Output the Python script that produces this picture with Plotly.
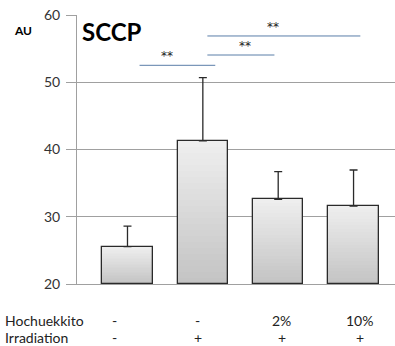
import plotly.graph_objects as go

categories = ["Control", "Irradiation", "Hochuekkito 2%", "Hochuekkito 10%"]
means = [25.55, 41.3, 32.6, 31.6]
sd_plus = [3.05, 9.4, 4.1, 5.35]
hochuekkito_labels = ["-", "-", "2%", "10%"]
irradiation_labels = ["-", "+", "+", "+"]
y_ticks = [20, 30, 40, 50, 60]
y_base = 20

FONT = "Lato"
GRID = "#a0a0a0"

fig = go.Figure()

# vertical gradient fill: stacked overlapping segments, darker at bottom
N = 24
top_c = (238, 238, 238)
bot_c = (196, 196, 196)
for k in range(N):
    t = k / (N - 1)
    c = tuple(round(bot_c[j] + (top_c[j] - bot_c[j]) * t) for j in range(3))
    bases = [y_base + (m - y_base) * k / N for m in means]
    fig.add_trace(go.Bar(
        x=categories, y=[m - b for m, b in zip(means, bases)], base=bases,
        width=0.67, marker=dict(color="rgb(%d,%d,%d)" % c, line=dict(width=0)),
        hoverinfo="skip", showlegend=False))

# outline + error bars
fig.add_trace(go.Bar(
    x=categories, y=[m - y_base for m in means], base=[y_base] * len(means),
    width=0.67,
    marker=dict(color="rgba(0,0,0,0)", line=dict(color="#2a2a2a", width=1.3)),
    error_y=dict(type="data", array=sd_plus, arrayminus=[0] * len(means),
                 symmetric=False, color="#2a2a2a", thickness=1.3, width=4),
    showlegend=False))

# significance lines
sig = [
    (0.16, 1.165, 52.52, 0.52, 53.9, "**"),
    (1.06, 1.95, 54.05, 1.56, 55.4, "**"),
    (1.06, 3.09, 56.88, 1.93, 58.2, "**"),
]
for x0, x1, yv, tx, ty, lab in sig:
    fig.add_shape(type="line", xref="x", yref="y", x0=x0, x1=x1, y0=yv, y1=yv,
                  line=dict(color="#5a7ea8", width=1))
    fig.add_annotation(x=tx, y=ty, xref="x", yref="y", text=lab, showarrow=False,
                       font=dict(family="DejaVu Sans", size=12, color="#222222"))

# title and unit
fig.add_annotation(xref="paper", yref="paper", x=0.0106, y=1.0, xanchor="left",
                   yanchor="top", text="<b>SCCP</b>", showarrow=False,
                   font=dict(family=FONT, size=24, color="#000000"))
fig.add_annotation(xref="paper", yref="paper", x=-0.205, y=0.942, xanchor="left",
                   yanchor="middle", text="<b>AU</b>", showarrow=False,
                   font=dict(family=FONT, size=12, color="#000000"))

# table rows below
row_x = [-0.17, 0.93, 2.045, 3.08]
for lbl_row, name, ypix in [(hochuekkito_labels, "Hochuekkito", 321),
                            (irradiation_labels, "Irradiation", 337.5)]:
    yp = (284 - ypix) / 269.0
    fig.add_annotation(xref="paper", yref="paper", x=-74 / 318.0, y=yp,
                       xanchor="left", yanchor="middle", text=name, showarrow=False,
                       font=dict(family=FONT, size=14, color="#222222"))
    for xi, t in zip(row_x, lbl_row):
        fig.add_annotation(xref="x", yref="paper", x=xi, y=yp, xanchor="center",
                           yanchor="middle", text=t, showarrow=False,
                           font=dict(family=FONT, size=14, color="#222222"))

fig.update_layout(
    width=395, height=346,
    margin=dict(l=77, r=0, t=15, b=62),
    paper_bgcolor="white", plot_bgcolor="white",
    barmode="overlay", bargap=0,
    font=dict(family=FONT, size=13, color="#333333"),
    xaxis=dict(range=[-0.67, 3.55], showticklabels=False, showgrid=False,
               zeroline=False, showline=True, linecolor=GRID, linewidth=1,
               ticks=""),
    yaxis=dict(range=[20, 60], tickvals=y_ticks, showgrid=True, gridcolor=GRID,
               gridwidth=1, zeroline=False, showline=True, linecolor=GRID,
               linewidth=1, ticks="outside", ticklen=10, tickcolor=GRID,
               ticklabelstandoff=3,
               tickfont=dict(family=FONT, size=14, color="#333333")),
)

fig.write_html("out.html")
